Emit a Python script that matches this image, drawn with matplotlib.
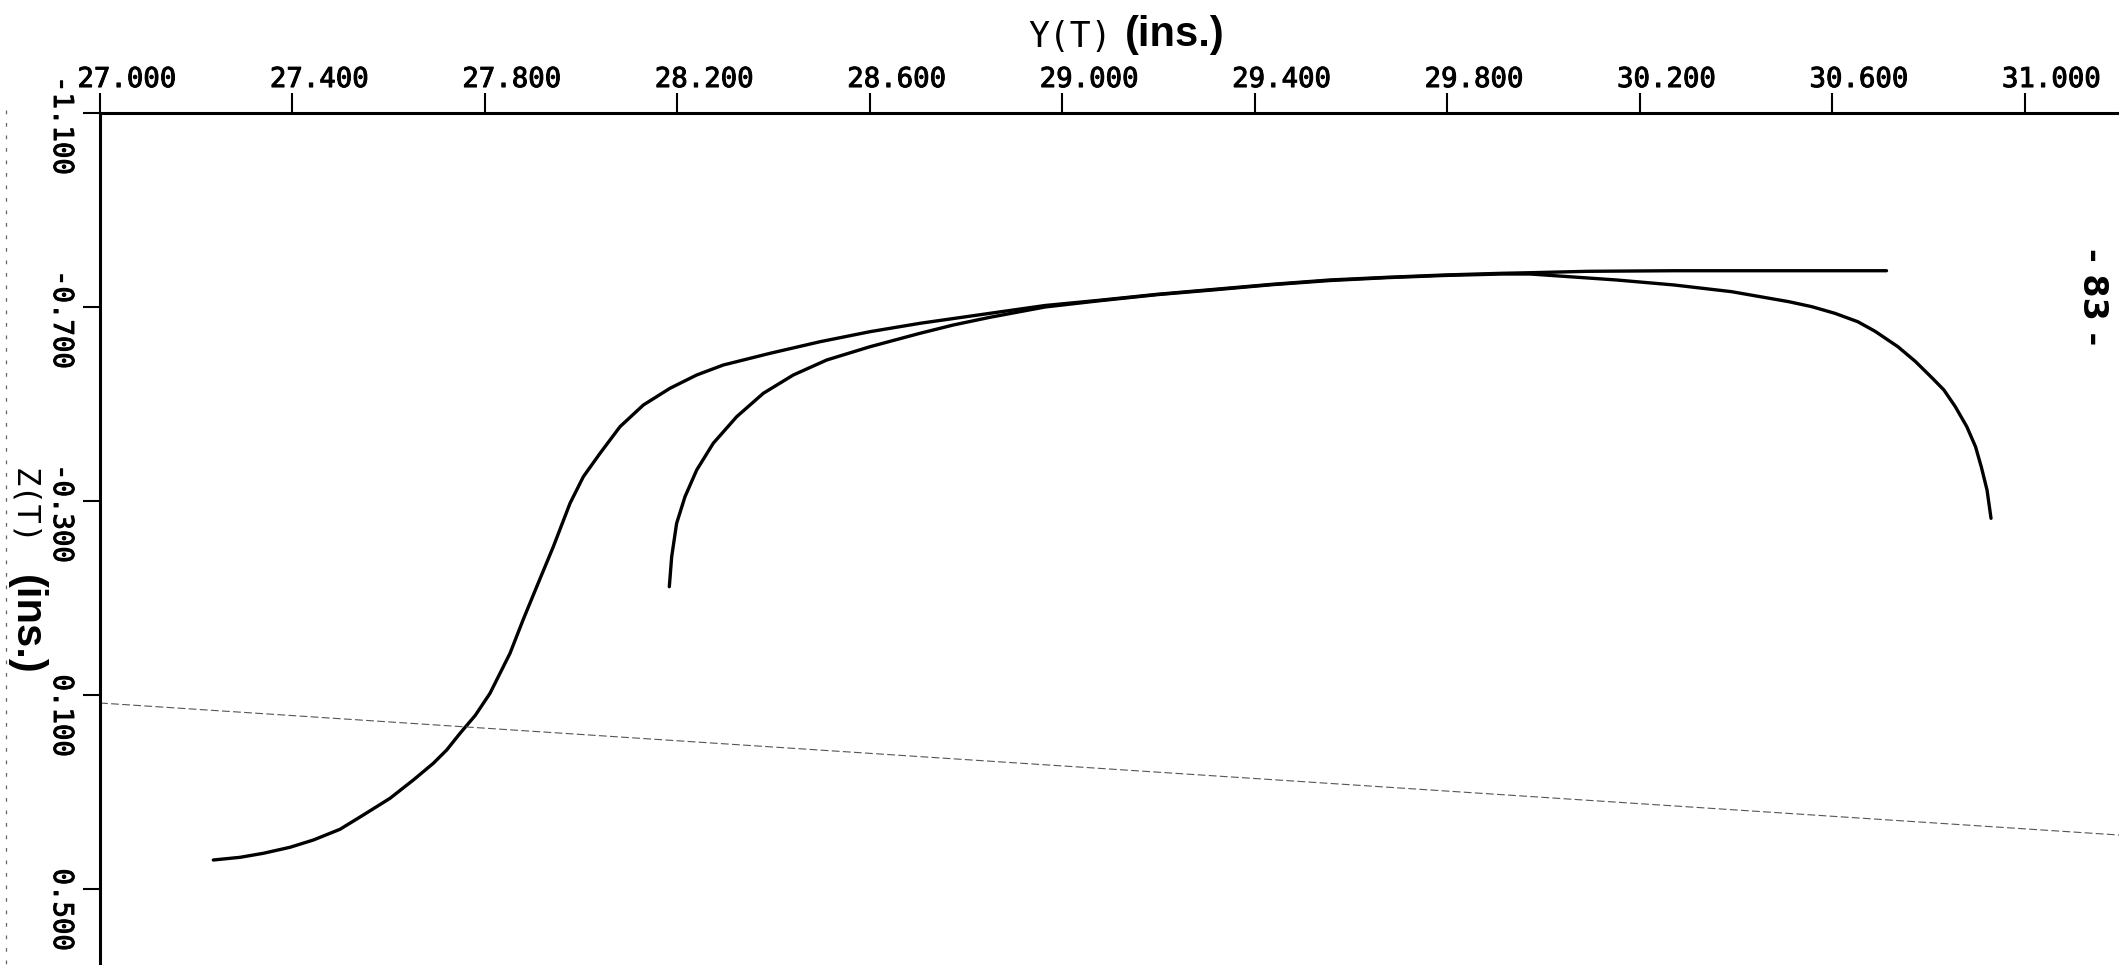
import matplotlib
matplotlib.use('Agg')
import matplotlib.pyplot as plt
import matplotlib.patheffects as pe
from matplotlib.lines import Line2D

plt.rcParams['axes.unicode_minus'] = False

# ---------------- data ----------------
x_ticks = [27.0, 27.4, 27.8, 28.2, 28.6, 29.0, 29.4, 29.8, 30.2, 30.6, 31.0]
x_tick_labels = ['27.000', '27.400', '27.800', '28.200', '28.600', '29.000',
                 '29.400', '29.800', '30.200', '30.600', '31.000']
y_ticks = [-1.1, -0.7, -0.3, 0.1, 0.5]
y_tick_labels = ['-1.100', '-0.700', '-0.300', ' 0.100', ' 0.500']

# outer trajectory (starts lower left, ends on the flat branch)
curve_a_y = [27.2355, 27.2910, 27.3394, 27.3949, 27.4434, 27.4988, 27.5473,
             27.6028, 27.6512, 27.6928, 27.7206, 27.7483, 27.7800, 27.8106,
             27.8522, 27.8798, 27.9077, 27.9422, 27.9769, 28.0046, 28.0393,
             28.0808, 28.1293, 28.1847, 28.2402, 28.2955, 28.3926, 28.4965,
             28.6004, 28.7044, 28.8499, 28.9642, 29.0785, 29.1978, 29.3171,
             29.4365, 29.5557, 29.6750, 29.7943, 29.9136, 29.9733, 30.0928,
             30.2715, 30.7132]
curve_a_z = [0.4402, 0.4347, 0.4264, 0.4140, 0.3990, 0.3769, 0.3474,
             0.3130, 0.2753, 0.2408, 0.2134, 0.1790, 0.1420, 0.0965,
             0.0140, -0.0560, -0.1233, -0.2058, -0.2952, -0.3501, -0.3983,
             -0.4532, -0.4979, -0.5324, -0.5598, -0.5804, -0.6045, -0.6284,
             -0.6491, -0.6664, -0.6870, -0.7031, -0.7140, -0.7262, -0.7365,
             -0.7468, -0.7557, -0.7612, -0.7660, -0.7695, -0.7707, -0.7736,
             -0.7748, -0.7748]

# inner trajectory (starts near 28.18, bends down at the right)
curve_b_y = [28.1833, 28.1882, 28.1985, 28.2159, 28.2402, 28.2746, 28.3233,
             28.3787, 28.4410, 28.5104, 28.6004, 28.7044, 28.7736, 28.8499,
             28.9642, 29.0785, 29.1978, 29.3171, 29.4365, 29.5557, 29.6750,
             29.7943, 29.9136, 29.9733, 30.0328, 30.1523, 30.2716, 30.3911,
             30.5104, 30.5582, 30.6058, 30.6534, 30.6893, 30.7369, 30.7729,
             30.8087, 30.8325, 30.8562, 30.8801, 30.8982, 30.9101, 30.9221,
             30.9304]
curve_b_z = [-0.1233, -0.1851, -0.2540, -0.3089, -0.3639, -0.4190, -0.4738,
             -0.5221, -0.5598, -0.5907, -0.6181, -0.6458, -0.6629, -0.6788,
             -0.7000, -0.7130, -0.7255, -0.7355, -0.7460, -0.7545, -0.7605,
             -0.7650, -0.7680, -0.7680, -0.7639, -0.7557, -0.7454, -0.7316,
             -0.7109, -0.7006, -0.6870, -0.6697, -0.6500, -0.6181, -0.5880,
             -0.5530, -0.5289, -0.4944, -0.4532, -0.4119, -0.3707, -0.3227,
             -0.2643]

# faint straight line crossing the sheet
ref_line_y = [27.0, 31.1964]
ref_line_z = [0.1165, 0.3887]

# ---------------- figure ----------------
W, H = 2119, 965
fig = plt.figure(figsize=(W / 100, H / 100), dpi=100)
fig.patch.set_facecolor('white')
ax = fig.add_axes([100 / W, 0, 1 - 100 / W, (H - 113) / H])
ax.set_xlim(27.0, 31.1964)
ax.set_ylim(0.6567, -1.1)
ax.set_facecolor('white')

for s in ('bottom', 'right'):
    ax.spines[s].set_visible(False)
for s in ('top', 'left'):
    ax.spines[s].set_linewidth(2.2)
    ax.spines[s].set_color('black')

ax.xaxis.tick_top()
ax.set_xticks(x_ticks)
ax.set_yticks(y_ticks)
ax.tick_params(axis='x', direction='out', length=14.4, width=1.5,
               labeltop=False, labelbottom=False, color='black')
ax.tick_params(axis='y', direction='out', length=12.2, width=1.5,
               labelleft=False, color='black')

mono = 'DejaVu Sans Mono'
darken = [pe.withStroke(linewidth=0.7, foreground='black')]
for xv, lbl in zip(x_ticks, x_tick_labels):
    ax.annotate(lbl, xy=(xv, 1.0), xycoords=('data', 'axes fraction'),
                xytext=(19.4, 18.7), textcoords='offset points',
                ha='center', va='baseline', fontsize=19.7, family=mono,
                color='black', annotation_clip=False, path_effects=darken)
for yv, lbl in zip(y_ticks, y_tick_labels):
    ax.annotate(lbl, xy=(0.0, yv), xycoords=('axes fraction', 'data'),
                xytext=(-33.1, 26.6), textcoords='offset points',
                ha='left', va='baseline', rotation=-90, rotation_mode='anchor',
                fontsize=19.7, family=mono, color='black',
                annotation_clip=False, path_effects=darken)

# curves
ax.plot(curve_a_y, curve_a_z, color='black', lw=2.4,
        solid_joinstyle='round', solid_capstyle='round', clip_on=False)
ax.plot(curve_b_y, curve_b_z, color='black', lw=2.4,
        solid_joinstyle='round', solid_capstyle='round', clip_on=False)
ax.plot(ref_line_y, ref_line_z, color='#555555', lw=0.8,
        linestyle=(0, (7, 3)), clip_on=False)

# axis titles
fig.text(1028 / W, 1 - 47 / H, 'Y(T)', ha='left', va='baseline',
         fontsize=25, family=mono, color='black')
fig.text(1125 / W, 1 - 46 / H, '(ins.)', ha='left', va='baseline',
         fontsize=30, family='Liberation Sans', weight='bold', color='black')

fig.text(15 / W, 1 - 468 / H, 'Z(T)', ha='left', va='baseline',
         rotation=-90, rotation_mode='anchor',
         fontsize=23, family=mono, color='black')
fig.text(15 / W, 1 - 575 / H, '(ins.)', ha='left', va='baseline',
         rotation=-90, rotation_mode='anchor',
         fontsize=30, family='Liberation Sans', weight='bold', color='black')

# page number
fig.text(2083 / W, 1 - 248 / H, '- 83 -', ha='left', va='baseline',
         rotation=-90, rotation_mode='anchor',
         fontsize=24, family='DejaVu Sans', weight='bold', color='black')

# dotted scan edge line at far left
fig.add_artist(Line2D([6 / W, 6 / W], [1 - 110 / H, 0.0], color='#666666',
                      lw=0.9, linestyle=(0, (3, 7)), transform=fig.transFigure))

fig.savefig('out.png', dpi=100, facecolor='white')
